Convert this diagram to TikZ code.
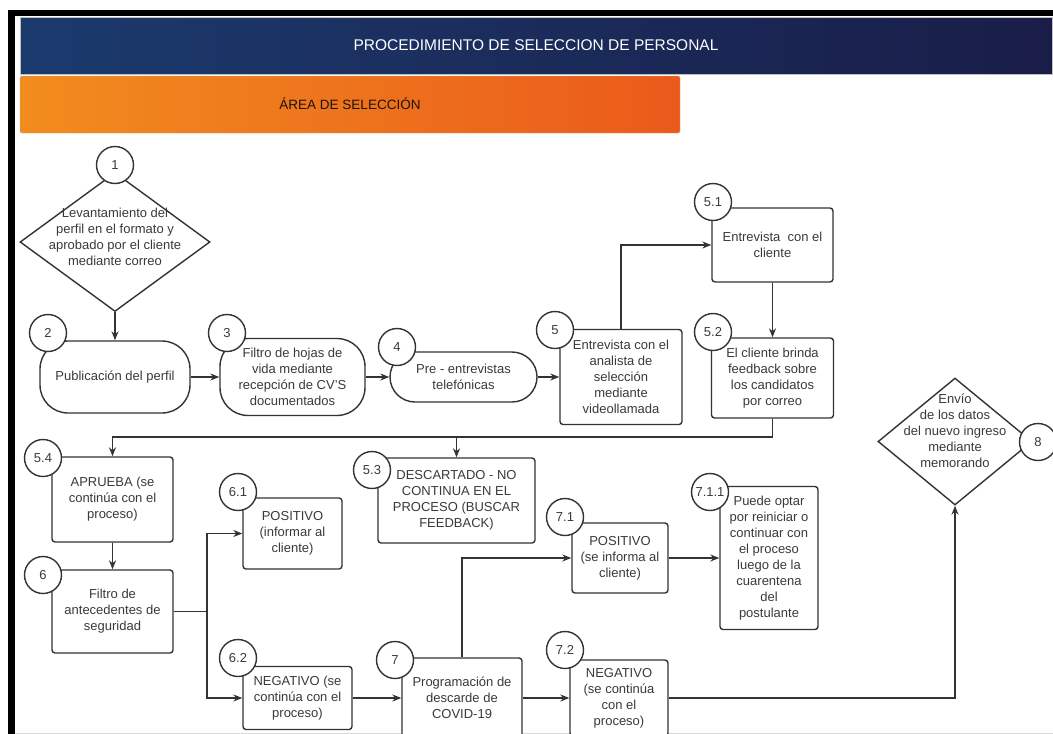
\documentclass[tikz,border=0pt]{standalone}
\usepackage{fontspec}
\setmainfont{Liberation Sans}
\usepackage{xcolor}
\usetikzlibrary{arrows.meta,positioning,shapes.geometric,calc}
\definecolor{linec}{HTML}{333333}
\definecolor{txtc}{HTML}{3A3A3A}
\definecolor{bandl}{RGB}{27,58,110}
\definecolor{bandr}{RGB}{26,29,72}
\definecolor{orl}{RGB}{242,140,30}
\definecolor{orr}{RGB}{234,90,27}
\newcommand{\nodefont}{\fontsize{13}{16}\selectfont}
\tikzset{
  box/.style={draw=linec,line width=1.4pt,rounded corners=3pt,fill=white,align=center,font=\nodefont,text=txtc,inner sep=2pt},
  stad/.style={box,rounded corners=28pt},
  dia/.style={diamond,draw=linec,line width=1.4pt,fill=white,inner sep=0pt},
  num/.style={circle,draw=linec,line width=1.4pt,fill=white,minimum size=37pt,inner sep=0pt,font=\nodefont,text=txtc},
  txt/.style={align=center,font=\nodefont,text=txtc},
  arr/.style={-{Stealth[length=9pt,width=7pt]},draw=linec,line width=1.2pt},
  ln/.style={draw=linec,line width=1.2pt},
}
\begin{document}
\begin{tikzpicture}[x=1pt,y=-1pt]
\useasboundingbox (0,0) rectangle (1053,734);
\clip (0,0) rectangle (1053,734);
\fill[white] (0,0) rectangle (1053,734);
\fill[black] (8,10) rectangle (15,734);
\fill[black] (8,10) rectangle (1053,16);
\shade[left color=bandl,right color=bandr,draw=gray!50] (20,17) rectangle (1052,74);
\node[text=white,font=\fontsize{15.5}{19}\selectfont] (ttl) at (536,45.5) {PROCEDIMIENTO DE SELECCION DE PERSONAL};
\shade[left color=orl,right color=orr,draw=gray!60,rounded corners=2pt] (20,76) rectangle (680,133);
\node[text=black!85!brown,font=\fontsize{13.5}{16}\selectfont] (area) at (350,104) {ÁREA DE SELECCIÓN};
\draw[gray!30] (15,733) -- (1053,733);
\node[dia,minimum width=190pt,minimum height=139pt] (d1) at (115,242) {};
\node[txt] (d1t) at (115,237) {Levantamiento del\\perfil en el formato y\\aprobado por el cliente\\mediante correo};
\node[stad,minimum width=150pt,minimum height=72pt] (p2) at (115,377) {Publicación del perfil};
\node[stad,minimum width=145pt,minimum height=77pt] (p3) at (292.5,377) {Filtro de hojas de\\vida mediante\\recepción de CV'S\\documentados};
\node[stad,rounded corners=25pt,minimum width=147pt,minimum height=50pt] (p4) at (463.5,377) {Pre - entrevistas\\telefónicas};
\node[box,minimum width=122pt,minimum height=95pt] (p5) at (621,377) {Entrevista con el\\analista de\\selección\\mediante\\videollamada};
\node[box,minimum width=121pt,minimum height=74pt] (p51) at (772.5,245) {Entrevista~ con el\\cliente};
\node[box,minimum width=122pt,minimum height=80pt] (p52) at (772.5,378) {El cliente brinda\\feedback sobre\\los candidatos\\por correo};
\node[box,minimum width=121pt,minimum height=85pt] (p54) at (112.5,499.5) {APRUEBA (se\\continúa con el\\proceso)};
\node[box,minimum width=121pt,minimum height=83pt] (p6) at (112.5,611.5) {Filtro de\\antecedentes de\\seguridad};
\node[box,minimum width=157pt,minimum height=85pt] (p53) at (456.5,500.5) {DESCARTADO - NO\\CONTINUA EN EL\\PROCESO (BUSCAR\\FEEDBACK)};
\node[box,minimum width=99pt,minimum height=71pt] (p61) at (292.5,533.5) {POSITIVO\\(informar al\\cliente)};
\node[box,minimum width=109pt,minimum height=63pt] (p62) at (297.5,698) {NEGATIVO (se\\continúa con el\\proceso)};
\node[box,minimum width=120pt,minimum height=80pt] (p7) at (462,698) {Programación de\\descarde de\\COVID-19};
\node[box,minimum width=96pt,minimum height=70pt] (p71) at (620,558) {POSITIVO\\(se informa al\\cliente)};
\node[box,minimum width=98pt,minimum height=143pt] (p711) at (769,558) {Puede optar\\por reiniciar o\\continuar con\\el proceso\\luego de la\\cuarentena\\del\\postulante};
\node[box,minimum width=98pt,minimum height=76pt] (p72) at (619,698) {NEGATIVO\\(se continúa\\con el\\proceso)};
\node[dia,minimum width=154pt,minimum height=127pt] (d8) at (955,441.5) {};
\node[txt] (d8t) at (955,431) {Envío\\de los datos\\del nuevo ingreso\\mediante\\memorando};
\draw[arr] (d1) -- (p2);
\draw[arr] (p2) -- (p3);
\draw[arr] (p3) -- (p4);
\draw[arr] (p4) -- (p5);
\draw[arr] (p5) |- (p51);
\draw[arr] (p51) -- (p52);
\coordinate (bus) at (0,437);
\draw[arr] (p52) |- (bus -| p54) -- (p54);
\draw[arr] (bus -| p53) -- (p53);
\draw[arr] (p54) -- (p6);
\coordinate (j6) at (207,611.5);
\draw[ln] (p6) -- (j6);
\draw[arr] (j6) |- (p61);
\draw[arr] (j6) |- (p62);
\draw[arr] (p62) -- (p7);
\draw[arr] (p7) -- (p72);
\draw[arr] (p7) |- (p71);
\draw[arr] (p71) -- (p711);
\draw[arr] (p72) -| (d8);
\foreach \nm/\lab/\x/\y in {c1/1/115/165,c2/2/48/333,c3/3/227/333,c4/4/397/347,c5/5/555/330,c51/5.1/713/202,c52/5.2/713/332,c53/5.3/372/470,c54/5.4/43/458,c6/6/43/575,c61/6.1/238/492,c62/6.2/238/658,c7/7/395/660,c71/7.1/565/517,c711/7.1.1/710/492,c72/7.2/565/650,c8/8/1038/442}
  \node[num] (\nm) at (\x,\y) {\lab};
\end{tikzpicture}
\end{document}
